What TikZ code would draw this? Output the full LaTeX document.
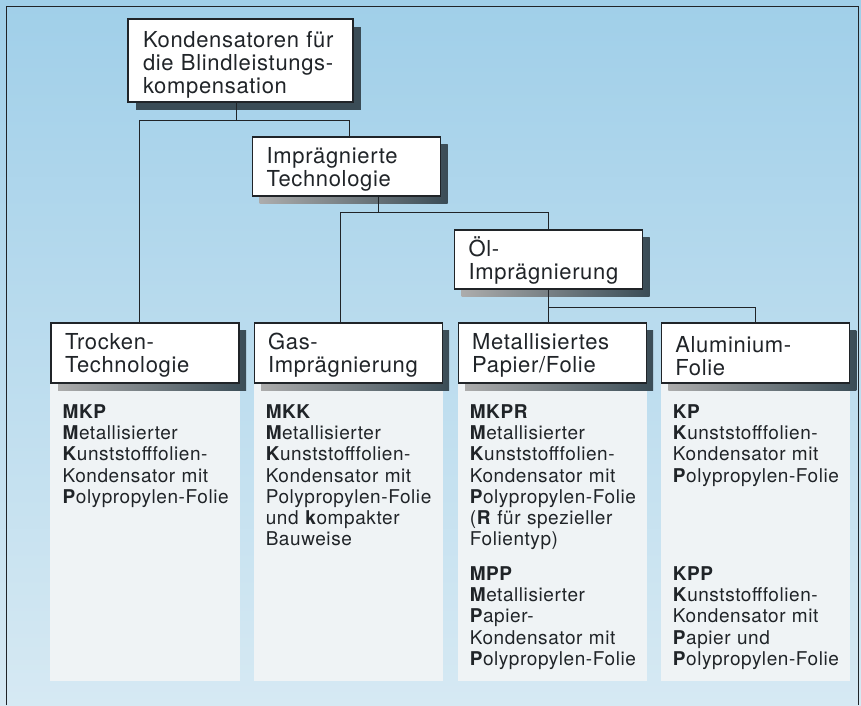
\documentclass[tikz,border=0pt]{standalone}
\usepackage{fontspec}
\setmainfont[LetterSpace=3]{TeX Gyre Heros}
\usepackage{tikz}
\usetikzlibrary{positioning,shadows,backgrounds}

\definecolor{bgtop}{RGB}{160,207,233}
\definecolor{bgbot}{RGB}{214,233,243}
\definecolor{panelc}{RGB}{239,243,245}
\definecolor{inkc}{RGB}{32,36,40}
\definecolor{shadowc}{RGB}{58,76,86}

\begin{document}
\begin{tikzpicture} [x=1pt, y=-1pt,
    card/.style = {draw=inkc,
    fill=white,
    line width=1.1pt,
    text=inkc,
    align=left,
    inner xsep=14pt,
    inner ysep=2pt,
    text width=160pt,
    minimum height=60pt,
    execute at begin node={\rule{0pt}{21.5pt}},
    font=\fontsize{22}{23}\selectfont},
    box/.style = {card,
    drop shadow={shadow xshift=7pt, shadow yshift=-7pt,
      left color=gray!65, right color=shadowc, opacity=1}},
    rootbox/.style = {card,
    line width=2.4pt,
    inner xsep=15pt,
    text width=195pt,
    minimum height=83pt,
    execute at begin node={\rule{0pt}{25pt}},
    drop shadow={shadow xshift=8pt, shadow yshift=-8pt,
      fill=shadowc, opacity=1}},
    info/.style = {anchor=base west,
    inner sep=0pt,
    text width=178pt,
    align=left,
    text=inkc,
    font=\fontsize{19}{21.2}\selectfont},
    link/.style = {draw=inkc, line width=0.9pt}]

\useasboundingbox (0,0) rectangle (861,705);

% hierarchy
\node (top) [rootbox] at (240.5,60.5) {Kondensatoren für\\die Blindleistungs-\\kompensation};
\node (impr) [box, minimum height=59pt] at (346.5,166.5) {Imprägnierte\\Technologie};
\node (oel) [box, minimum height=59pt] at (548.5,259.5) {Öl-\\Imprägnierung};

\node (trocken) [box] at (145,353) {Trocken-\\Technologie};
\node (gas) [box, right=14pt of trocken] {Gas-\\Imprägnierung};
\node (metall) [box, right=15pt of gas] {Metallisiertes\\Papier/Folie};
\node (alu) [box, right=14pt of metall] {Aluminium-\\Folie};

% connectors
\draw[link] ([xshift=-4pt]top.south) -- ++(0,17) coordinate (j1);
\draw[link] ([xshift=-6pt]trocken.north) |- (j1) -| ([xshift=2.5pt]impr.north);
\draw[link] ([xshift=31.5pt]impr.south) -- ++(0,16) coordinate (j2);
\draw[link] ([xshift=-7.5pt]gas.north) |- (j2) -| (oel.north);
\draw[link] (oel.south) -- (oel.south |- metall.north);
\path (oel.south) -- ++(0,18) coordinate (j3);
\draw[link] (j3) -| (alu.north);

% types
\node (mkp) [info] at ([shift={(12,35)}]trocken.south west)
  {\textbf{MKP}\\\textbf{M}etallisierter\\\textbf{K}unststofffolien-\\Kondensator mit\\\textbf{P}olypropylen-Folie};
\node (mkk) [info] at ([shift={(12,35)}]gas.south west)
  {\textbf{MKK}\\\textbf{M}etallisierter\\\textbf{K}unststofffolien-\\Kondensator mit\\Polypropylen-Folie\\und \textbf{k}ompakter\\Bauweise};
\node (mkpr) [info] at ([shift={(12,35)}]metall.south west)
  {\textbf{MKPR}\\\textbf{M}etallisierter\\\textbf{K}unststofffolien-\\Kondensator mit\\\textbf{P}olypropylen-Folie\\(\textbf{R} für spezieller\\Folientyp)};
\node (mpp) [info] at ([shift={(12,197)}]metall.south west)
  {\textbf{MPP}\\\textbf{M}etallisierter\\\textbf{P}apier-\\Kondensator mit\\\textbf{P}olypropylen-Folie};
\node (kp) [info] at ([shift={(12,35)}]alu.south west)
  {\textbf{KP}\\\textbf{K}unststofffolien-\\Kondensator mit\\\textbf{P}olypropylen-Folie};
\node (kpp) [info] at ([shift={(12,197)}]alu.south west)
  {\textbf{KPP}\\\textbf{K}unststofffolien-\\Kondensator mit\\\textbf{P}apier und\\\textbf{P}olypropylen-Folie};

% frame
\draw[inkc, line width=1pt] (6,705) -- (6,6) -- (858,6) -- (858,705);

\begin{scope}[on background layer]
\shade[top color=bgtop, bottom color=bgbot] (0,0) rectangle (861,705);
\coordinate (foot) at (0,681);
\fill[panelc] (trocken.south west) rectangle (trocken.south east |- foot);
\fill[panelc] (gas.south west) rectangle (gas.south east |- foot);
\fill[panelc] (metall.south west) rectangle (metall.south east |- foot);
\fill[panelc] (alu.south west) rectangle (alu.south east |- foot);
\end{scope}

\end{tikzpicture}
\end{document}
